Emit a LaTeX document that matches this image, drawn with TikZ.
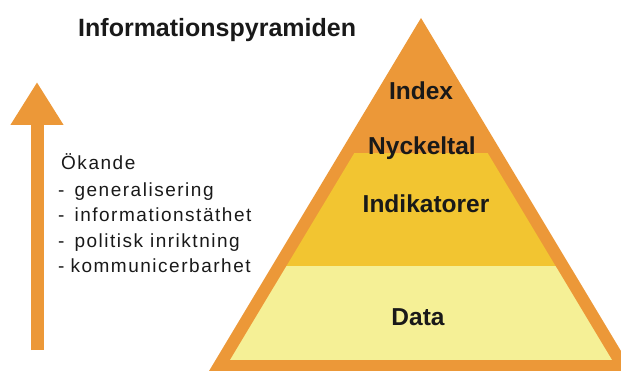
\documentclass[tikz,border=0pt]{standalone}
\usepackage{fontspec}
\setmainfont{Liberation Sans}
\usetikzlibrary{arrows.meta}
\definecolor{pyrorange}{RGB}{236,152,56}
\definecolor{midyellow}{RGB}{242,197,49}
\definecolor{lightyellow}{RGB}{245,240,150}
\definecolor{txt}{RGB}{25,25,25}
\tikzset{
  lbl/.style={anchor=base, inner sep=0pt, text=txt, font=\fontsize{24.5}{28}\selectfont\bfseries},
  ttl/.style={anchor=base west, inner sep=0pt, text=txt, font=\fontsize{25}{29}\selectfont\bfseries},
  side/.style={anchor=base west, inner sep=0pt, text=txt, font=\fontsize{19}{22}\selectfont\addfontfeatures{LetterSpace=8}},
  uparrow/.style={draw=pyrorange, line width=13pt, line cap=butt, -{Triangle[width=50pt,length=43pt]}}
}
\begin{document}
\begin{tikzpicture}[x=1pt,y=-1pt]
\useasboundingbox (0,0) rectangle (621,371);
\clip (0,0) rectangle (621,371);
% pyramid
\coordinate (apex) at (421,18);
\coordinate (bl) at (209,371);
\coordinate (br) at (633,371);
\fill[pyrorange] (apex) -- (bl) -- (br) -- cycle;
\begin{scope}
  \clip (421,42) -- (230,360) -- (612,360) -- cycle;
  \fill[midyellow] (0,153) rectangle (621,266);
  \fill[lightyellow] (0,266) rectangle (621,360);
\end{scope}
% labels
\node[lbl] (index) at (421,100) {Index};
\node[lbl] (nyckeltal) at (422,155) {Nyckeltal};
\node[lbl] (indikatorer) at (426,213) {Indikatorer};
\node[lbl] (data) at (418,325) {Data};
% title
\node[ttl] (title) at (78,37) {Informationspyramiden};
% arrow
\coordinate (arrbot) at (37,350);
\coordinate (arrtip) at (37,82);
\draw[uparrow] (arrbot) -- (arrtip);
% side text
\node[side] (l0) at (61,170) {Ökande};
\node[side] (l1) at (58,197) {-\hspace{10pt}generalisering};
\node[side] (l2) at (58,222) {-\hspace{10pt}informationstäthet};
\node[side] (l3) at (58,248) {-\hspace{10pt}politisk inriktning};
\node[side] (l4) at (58,273) {-\hspace{6pt}kommunicerbarhet};
\end{tikzpicture}
\end{document}
